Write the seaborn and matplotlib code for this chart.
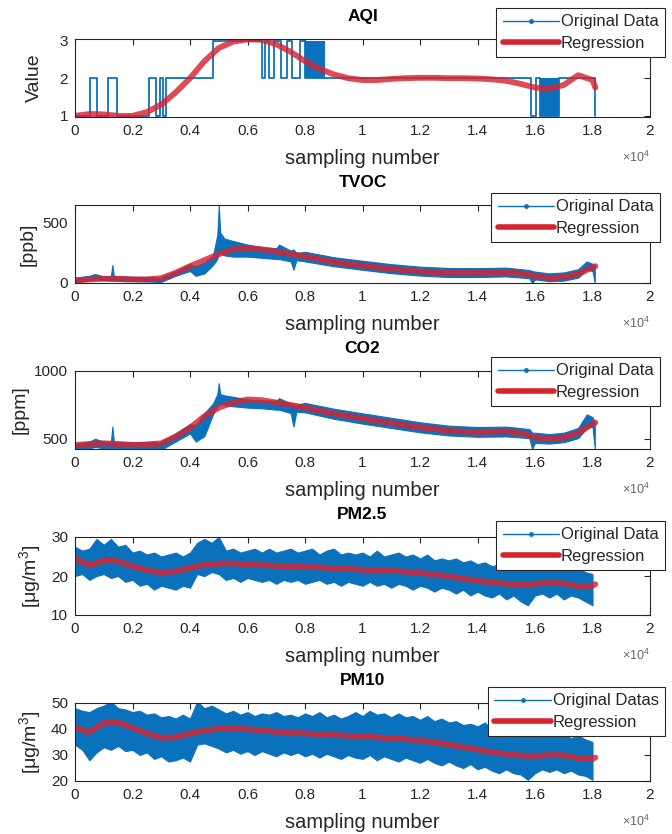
import numpy as np
import pandas as pd
import matplotlib
matplotlib.use("Agg")
import matplotlib.pyplot as plt
from matplotlib.lines import Line2D
import seaborn as sns

# ---- data (sample index, values) ----
reg_x = [0, 500, 1000, 1500, 2000, 2500, 3000, 3500, 4000, 4500, 5000, 5500, 6000, 6500,
         7000, 7500, 8000, 8500, 9000, 9500, 10000, 10500, 11000, 11500, 12000, 12500,
         13000, 13500, 14000, 14500, 15000, 15500, 16000, 16500, 17000, 17500, 18000, 18100]

aqi_reg = [1.0, 1.05, 1.04, 1.0, 1.0, 1.1, 1.3, 1.62, 2.0, 2.45, 2.8, 2.97, 3.03, 3.02,
           2.9, 2.7, 2.45, 2.25, 2.1, 2.0, 1.95, 1.95, 1.98, 2.0, 2.01, 2.01,
           2.0, 2.0, 1.99, 1.97, 1.93, 1.85, 1.75, 1.72, 1.82, 2.08, 1.95, 1.75]
tvoc_reg = [20, 30, 35, 35, 30, 30, 40, 85, 140, 190, 240, 280, 290, 280,
            262, 242, 222, 197, 175, 158, 145, 130, 117, 105, 96, 90,
            85, 83, 84, 88, 90, 80, 58, 40, 50, 75, 130, 140]
co2_reg = [455, 462, 467, 462, 455, 458, 467, 517, 580, 667, 730, 767, 790, 785,
           767, 750, 730, 707, 685, 667, 650, 633, 617, 600, 585, 572,
           560, 553, 550, 553, 555, 542, 510, 500, 510, 542, 610, 620]
pm25_reg = [24.5, 22.7, 24.0, 23.8, 22.5, 21.5, 20.9, 21.2, 22.1, 22.8, 23.2, 23.2, 23.0, 22.8,
            22.6, 22.5, 22.3, 22.2, 22.0, 21.8, 21.6, 21.4, 21.3, 21.1, 20.8, 20.4,
            19.9, 19.3, 18.8, 18.3, 18.0, 17.8, 18.0, 18.3, 18.1, 17.4, 17.5, 17.9]
pm10_reg = [40.5, 38.8, 42.3, 42.5, 40.5, 38.2, 36.6, 36.8, 38.3, 39.4, 40.1, 40.2, 39.9, 39.4,
            38.9, 38.5, 38.3, 38.0, 37.7, 37.4, 37.1, 36.8, 36.4, 36.1, 35.6, 34.9,
            34.0, 33.0, 32.1, 31.1, 30.3, 29.8, 29.6, 30.0, 29.9, 28.8, 28.4, 29.0]

# AQI raw data: level changes (steps) and densely toggling blocks
aqi_step_x = [0, 510, 760, 1135, 1445, 2570, 2820, 2950, 3050, 3150, 4800, 6490, 6620,
              6750, 6930, 7180, 7380, 7560, 7820, 8000, 15850, 16020, 16160, 16840, 18080, 18100]
aqi_step_y = [1, 2, 1, 2, 1, 2, 1, 2, 1, 2, 3, 2, 3,
              2, 3, 2, 3, 2, 3, 2, 1, 2, 1, 2, 1, 1]
aqi_dense_start = [8000, 16160]
aqi_dense_end = [8710, 16840]
aqi_dense_lo = [2, 1]
aqi_dense_hi = [3, 2]

# TVOC / CO2 raw data envelopes
gas_env_x = [0, 500, 700, 1000, 1250, 1300, 1350, 1700, 2200, 2800,
             2900, 3000, 3500, 4000, 4200, 4500, 4800, 4950, 5000, 5050,
             5200, 5500, 6000, 6500, 7000, 7100, 7500, 7600, 7700, 8000,
             9000, 10000, 11000, 12000, 13000, 14000, 15000, 15800, 15900, 16000,
             16500, 17000, 17500, 17800, 18000, 18080]
tvoc_hi = [45, 60, 75, 55, 60, 150, 60, 55, 50, 50,
           40, 50, 100, 160, 140, 170, 230, 400, 650, 420,
           370, 350, 320, 300, 290, 320, 270, 280, 250, 260,
           215, 185, 157, 136, 125, 124, 128, 108, 100, 95,
           80, 88, 115, 180, 160, 150]
tvoc_lo = [10, 20, 30, 25, 20, 20, 20, 15, 15, 10,
           0, 10, 60, 100, 60, 80, 150, 200, 250, 250,
           230, 220, 220, 210, 200, 200, 180, 110, 190, 180,
           140, 110, 82, 62, 50, 50, 55, 40, 0, 30,
           15, 20, 45, 110, 100, 0]
co2_hi = [460, 480, 500, 480, 480, 590, 480, 475, 475, 480,
          470, 480, 540, 610, 600, 690, 760, 830, 910, 830,
          820, 810, 790, 785, 780, 800, 760, 755, 750, 765,
          722, 688, 655, 622, 597, 587, 590, 572, 545, 545,
          535, 545, 580, 680, 660, 620]
co2_lo = [410, 430, 440, 430, 430, 430, 430, 425, 420, 420,
          410, 420, 480, 540, 480, 520, 680, 740, 750, 760,
          750, 740, 730, 725, 715, 715, 690, 590, 700, 695,
          648, 612, 580, 548, 525, 515, 518, 505, 425, 470,
          465, 475, 505, 580, 590, 425]

# PM raw data envelopes, every 250 samples
pm_env_x = np.arange(0, 18001, 250)
pm25_hi = [27.5, 26.5, 27, 29.5, 28, 29.5, 27.5, 28, 26, 26.5, 25.5, 26, 25, 25.5, 26, 25,
           26, 28.5, 29.5, 28.5, 30, 26.5, 27, 26, 26.5, 27, 26, 27, 26, 26.5, 27, 26,
           26.5, 27, 25.5, 26.5, 27, 25.5, 26, 25.5, 26, 25, 26.5, 25, 25.5, 26, 25, 25.5,
           24.5, 25.5, 24, 24.5, 24, 24.5, 23.5, 24, 23, 23.5, 22.5, 23, 22, 22.5, 21.5, 22,
           25.5, 22, 23, 22, 22.5, 21.5, 22, 21, 20.5]
pm25_lo = [20, 20.5, 19, 20, 20.5, 19.5, 20, 18.5, 19, 17.5, 18, 16.5, 17.5, 17, 16.5, 17.5,
           17, 20.5, 20, 21, 20.5, 19, 19.5, 18.5, 19.5, 19, 18.5, 19, 18, 19, 18.5, 19,
           18, 18.5, 19, 18, 18.5, 17.5, 18.5, 18, 17.5, 18.5, 17.5, 18, 17, 18, 17.5, 16.5,
           17.5, 17, 16, 17, 16.5, 15.5, 16.5, 15, 16, 15, 14.5, 15.5, 14, 15, 13.5, 12.5,
           15, 15.5, 14.5, 15.5, 14, 15, 14.5, 13.5, 12.5]
pm10_hi = [48, 47, 46.5, 48, 49, 50.5, 48, 47.5, 46.5, 47, 45.5, 46, 44.5, 45, 44, 45.5,
           44, 50.5, 48, 49, 47.5, 46, 47, 45.5, 46.5, 45, 46, 45.5, 46.5, 45, 45.5, 44.5,
           46, 45, 46.5, 44.5, 45.5, 44, 45, 46.5, 45, 47, 45.5, 46, 44.5, 46, 44.5, 45,
           43.5, 45, 43, 44, 42.5, 43, 41.5, 42, 41, 42.5, 40, 40.5, 39, 39.5, 38, 39,
           44, 37.5, 38.5, 37.5, 38, 36.5, 37.5, 36, 35]
pm10_lo = [34, 32, 28, 31, 33, 32, 33.5, 31.5, 32, 30, 31, 28.5, 29.5, 27.5, 28, 29,
           27.5, 34, 34.5, 33.5, 32.5, 31, 32, 30.5, 31.5, 30, 31.5, 30.5, 29.5, 31, 30, 31,
           29.5, 30.5, 29, 30.5, 29.5, 28.5, 30, 29, 28.5, 30, 28, 29.5, 28.5, 27.5, 29, 28,
           27, 28.5, 27, 26, 27.5, 26, 25, 26.5, 24.5, 25.5, 24, 23, 24.5, 23, 22.5, 20.5,
           23, 24.5, 23.5, 24.5, 23, 24, 22.5, 22, 20.5]

titles = ["AQI", "TVOC", "CO2", "PM2.5", "PM10"]
ylabels = ["Value", "[ppb]", "[ppm]", "[μg/m$^3$]", "[μg/m$^3$]"]
ylabel_pads = [12, 4, 4, 6, 6]
ylims = [(0.97, 3.04), (0, 650), (425, 1000), (10, 30), (20, 50)]
yticks = [[1, 2, 3], [0, 500], [500, 1000], [10, 20, 30], [20, 30, 40, 50]]
data_labels = ["Original Data", "Original Data", "Original Data", "Original Data", "Original Datas"]
xtick_vals = [0, 2000, 4000, 6000, 8000, 10000, 12000, 14000, 16000, 18000, 20000]
xtick_labels = ["0", "0.2", "0.4", "0.6", "0.8", "1", "1.2", "1.4", "1.6", "1.8", "2"]

# legend upper-right corners in figure pixels
legend_corner = [(665, 8), (660, 193), (660, 357), (665, 521), (665, 687)]

sns.set_theme(style="white")
plt.rcParams["font.family"] = ["Liberation Sans", "DejaVu Sans"]
plt.rcParams["mathtext.default"] = "regular"

BLUE = "#0a72bd"
RED = "#d8232f"
DARK = "#262626"

W, H = 672, 834
fig = plt.figure(figsize=(W / 100, H / 100), dpi=100)

regs = [aqi_reg, tvoc_reg, co2_reg, pm25_reg, pm10_reg]
envs = [None, (gas_env_x, tvoc_lo, tvoc_hi), (gas_env_x, co2_lo, co2_hi),
        (pm_env_x, pm25_lo, pm25_hi), (pm_env_x, pm10_lo, pm10_hi)]

for i in range(5):
    top = 39 + 166 * i
    ax = fig.add_axes([75 / W, 1 - (top + 78) / H, 575 / W, 78 / H])

    if i == 0:
        steps = pd.DataFrame({"x": aqi_step_x, "y": aqi_step_y})
        sns.lineplot(data=steps, x="x", y="y", ax=ax, color=BLUE, lw=1.3,
                     drawstyle="steps-post", estimator=None)
        for s, e, lo, hi in zip(aqi_dense_start, aqi_dense_end, aqi_dense_lo, aqi_dense_hi):
            ax.fill_between([s, e], [lo, lo], [hi, hi], color=BLUE, lw=0)
    else:
        ex, lo, hi = envs[i]
        ax.fill_between(ex, lo, hi, color=BLUE, lw=0.8, edgecolor=BLUE)

    reg = pd.DataFrame({"x": reg_x, "y": regs[i]})
    sns.lineplot(data=reg, x="x", y="y", ax=ax, color=RED, lw=4.2, alpha=0.82,
                 estimator=None)

    ax.set_xlim(0, 20000)
    ax.set_ylim(*ylims[i])
    ax.set_xticks(xtick_vals)
    ax.set_xticklabels(xtick_labels)
    ax.set_yticks(yticks[i])
    ax.tick_params(direction="in", top=True, right=True, length=4, width=0.8,
                   colors=DARK, labelsize=11, pad=5)
    for sp in ax.spines.values():
        sp.set_color(DARK)
        sp.set_linewidth(0.8)

    ax.set_title(titles[i], fontsize=12.5, fontweight="bold", color="black", pad=13)
    ax.set_xlabel("sampling number", fontsize=14.5, color=DARK, labelpad=8)
    ax.set_ylabel(ylabels[i], fontsize=14, color=DARK, labelpad=ylabel_pads[i])
    ax.text(0.975, -0.52, r"$\times10^{4}$", transform=ax.transAxes, ha="center",
            va="center", fontsize=9, color="#666666")

    handles = [Line2D([0], [0], color=BLUE, lw=1, marker=".", markersize=5),
               Line2D([0], [0], color=RED, lw=4)]
    cx, cy = legend_corner[i]
    leg = fig.legend(handles, [data_labels[i], "Regression"], loc="upper right",
                     bbox_to_anchor=(cx / W, 1 - cy / H), bbox_transform=fig.transFigure,
                     fontsize=12, frameon=True, fancybox=False, framealpha=1,
                     edgecolor=DARK, borderpad=0.38, handlelength=3.4,
                     handletextpad=0.1, labelspacing=0.4, borderaxespad=0,
                     numpoints=1)
    leg.get_frame().set_linewidth(0.8)

fig.savefig("out.png", dpi=100)
